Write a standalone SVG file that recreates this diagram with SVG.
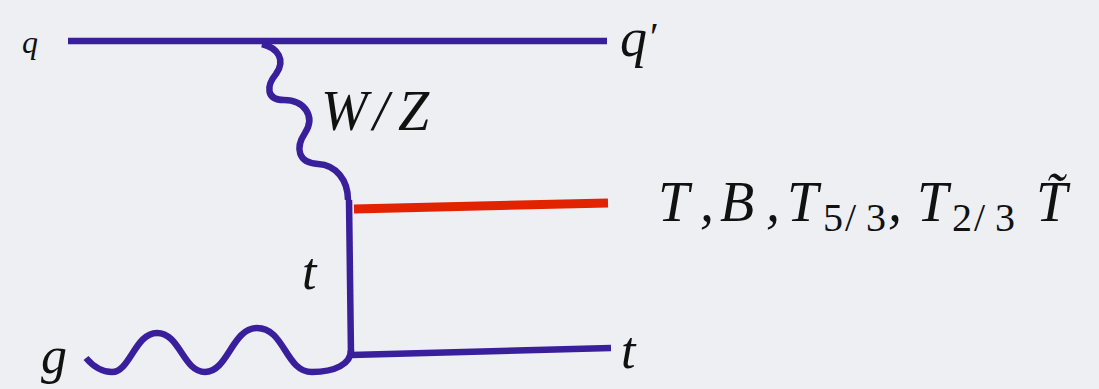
<svg xmlns="http://www.w3.org/2000/svg" width="1099" height="389" viewBox="0 0 1099 389">
<style>
.ln{fill:none;stroke:#3a1f9c;stroke-width:6.5;stroke-linecap:butt;stroke-linejoin:round}
.red{fill:none;stroke:#e12300;stroke-width:9}
.m{font-family:"Liberation Serif","DejaVu Serif",serif;font-style:italic;fill:#111}
.d{font-family:"Liberation Serif","DejaVu Serif",serif;font-style:normal;fill:#111}
</style>
<rect width="1099" height="389" fill="#edeff2"/>
<g id="connectors">
<path class="ln" d="M68,41 L607,41"/>
<path class="ln" d="M262,44 C278,48 286,60 276,74 C266,86 266,100 284,100 C304,100 316,116 305,133 C295,148 298,163 318,164 C336,165 348,180 348,200"/>
<path class="ln" d="M349,200 L351,355"/>
<path class="red" d="M354,209 L608,203"/>
<path class="ln" d="M351,355 L611,348"/>
<path class="ln" d="M86,358 Q98,372 112,372 C130,372 135,333 157,333 C180,333 183,372 205,372 C228,372 232,328 257,328 C285,328 285,372 312,372 C335,372 351,364 351,350"/>
</g>
<g id="q"><text class="m" x="22" y="53" font-size="32">q</text></g>
<g id="qprime"><text class="m" x="620" y="56" font-size="54">q</text><text class="d" x="650" y="50" font-size="40">′</text></g>
<g id="WZ"><text class="m" font-size="56" y="130"><tspan x="321">W</tspan><tspan x="373">/</tspan><tspan x="398">Z</tspan></text></g>
<g id="t-internal"><text class="m" x="302" y="289" font-size="52">t</text></g>
<g id="t-out"><text class="m" x="621" y="368" font-size="52">t</text></g>
<g id="g"><text class="m" x="41" y="373" font-size="52">g</text></g>
<g id="partners">
<text class="m" font-size="56" y="221"><tspan x="658">T</tspan><tspan x="700">,</tspan><tspan x="720">B</tspan><tspan x="766">,</tspan><tspan x="787">T</tspan><tspan x="888">,</tspan><tspan x="917">T</tspan><tspan x="1036">T̃</tspan></text>
<text class="d" font-size="40" y="231"><tspan x="823">5</tspan><tspan x="845">/</tspan><tspan x="866">3</tspan><tspan x="952">2</tspan><tspan x="974">/</tspan><tspan x="995">3</tspan></text>
</g>
</svg>
